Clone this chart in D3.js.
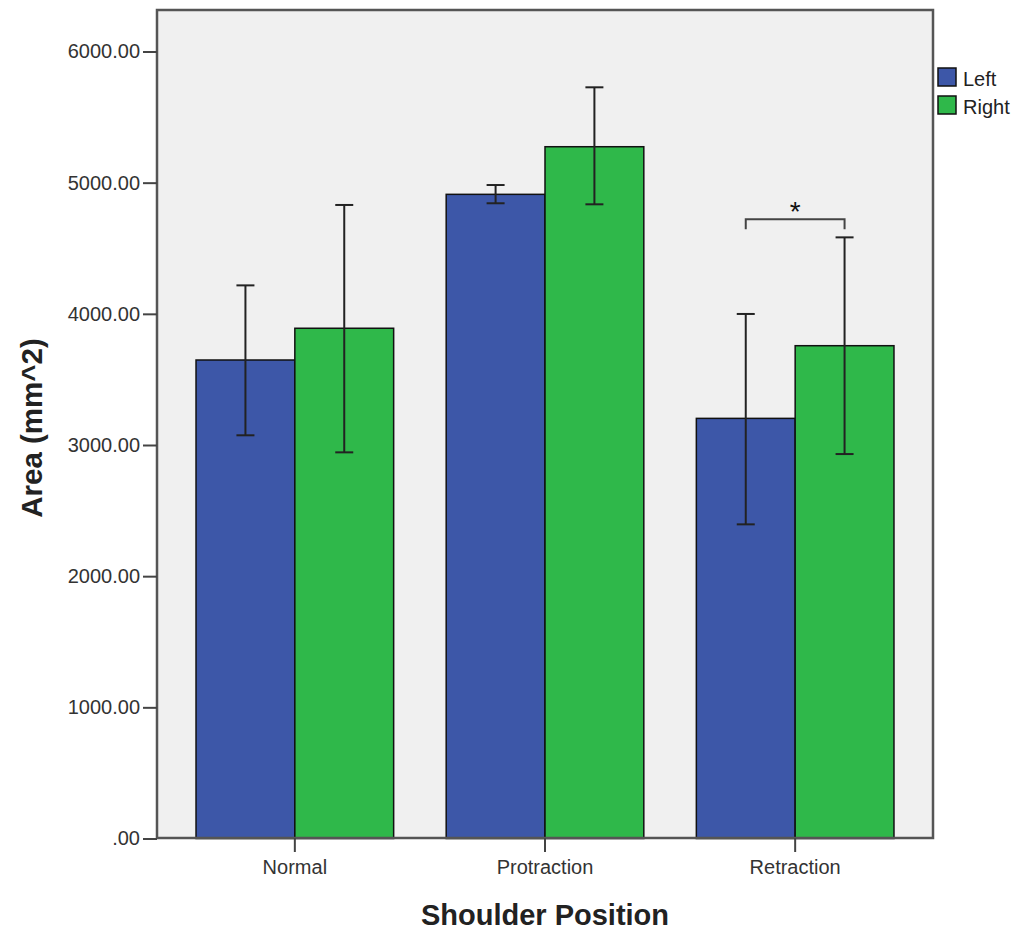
<!DOCTYPE html>
<html>
<head>
<meta charset="utf-8">
<script src="https://cdn.jsdelivr.net/npm/d3@7"></script>
<style>
  body { margin: 0; background: #fff; }
  svg text { font-family: "Liberation Sans", Arial, sans-serif; }
</style>
</head>
<body>
<div id="chart"></div>
<script>
// data
var positions = ["Normal", "Protraction", "Retraction"];
var sides = ["Left", "Right"];
var meanLeft = [3648, 4911, 3203];
var meanRight = [3890, 5274, 3757];
var lowLeft = [3074, 4843, 2395];
var highLeft = [4217, 4982, 3999];
var lowRight = [2944, 4835, 2931];
var highRight = [4830, 5727, 4583];
var yTicks = [0, 1000, 2000, 3000, 4000, 5000, 6000];

var width = 1018, height = 932;
// plot box
var plotLeft = 157, plotRight = 933, plotTop = 10, plotBottom = 838;

var colors = { Left: "#3d57a8", Right: "#2fb84a" };

var svg = d3.select("#chart").append("svg")
  .attr("width", width)
  .attr("height", height);

// plot background
svg.append("rect")
  .attr("x", plotLeft).attr("y", plotTop)
  .attr("width", plotRight - plotLeft).attr("height", plotBottom - plotTop)
  .attr("fill", "#f0f0f0");

var x = d3.scaleBand()
  .domain(positions)
  .range([plotLeft, plotRight])
  .paddingInner(0.21)
  .paddingOuter(0.156);

var xs = d3.scaleBand()
  .domain(sides)
  .range([0, x.bandwidth()]);

var y = d3.scaleLinear()
  .domain([0, 6000])
  .range([838.5, 51.5]);

var rows = positions.map(function(p, i) {
  return [
    { pos: p, side: "Left", mean: meanLeft[i], lo: lowLeft[i], hi: highLeft[i] },
    { pos: p, side: "Right", mean: meanRight[i], lo: lowRight[i], hi: highRight[i] }
  ];
});
var flat = d3.merge(rows);

// bars
svg.append("g").selectAll("rect")
  .data(flat)
  .enter()
  .append("rect")
  .attr("x", function(d) { return x(d.pos) + xs(d.side); })
  .attr("y", function(d) { return y(d.mean); })
  .attr("width", xs.bandwidth())
  .attr("height", function(d) { return y(0) - y(d.mean); })
  .attr("fill", function(d) { return colors[d.side]; })
  .attr("stroke", "#111")
  .attr("stroke-width", 1.5);

// error bars
var err = svg.append("g").attr("stroke", "#222").attr("stroke-width", 2);
flat.forEach(function(d) {
  var cx = x(d.pos) + xs(d.side) + xs.bandwidth() / 2;
  err.append("line")
    .attr("x1", cx).attr("x2", cx)
    .attr("y1", y(d.lo)).attr("y2", y(d.hi));
  [d.lo, d.hi].forEach(function(v) {
    err.append("line")
      .attr("x1", cx - 9).attr("x2", cx + 9)
      .attr("y1", y(v)).attr("y2", y(v));
  });
});

// significance bracket on Retraction
var r = flat.filter(function(d) { return d.pos == "Retraction"; });
var bx1 = x("Retraction") + xs("Left") + xs.bandwidth() / 2;
var bx2 = x("Retraction") + xs("Right") + xs.bandwidth() / 2;
var by = y(d3.max(r, function(d) { return d.hi; })) - 18;
svg.append("path")
  .attr("d", "M" + bx1 + "," + (by + 10) + "V" + by + "H" + bx2 + "V" + (by + 10))
  .attr("fill", "none")
  .attr("stroke", "#444")
  .attr("stroke-width", 2);
svg.append("text")
  .attr("x", (bx1 + bx2) / 2)
  .attr("y", by + 2)
  .attr("text-anchor", "middle")
  .attr("font-size", 28)
  .attr("fill", "#111")
  .text("*");

// frame
svg.append("rect")
  .attr("x", plotLeft).attr("y", plotTop)
  .attr("width", plotRight - plotLeft).attr("height", plotBottom - plotTop)
  .attr("fill", "none")
  .attr("stroke", "#555")
  .attr("stroke-width", 2.5);

// y axis
var yAxis = svg.append("g")
  .attr("transform", "translate(" + plotLeft + ",0)")
  .call(d3.axisLeft(y)
    .tickValues(yTicks)
    .tickSize(14)
    .tickFormat(function(d) { return d == 0 ? ".00" : d3.format(".2f")(d); }));
yAxis.select(".domain").remove();
yAxis.selectAll("line").attr("stroke", "#444").attr("stroke-width", 2);
yAxis.selectAll("text")
  .attr("font-size", 20)
  .attr("fill", "#333")
  .attr("x", -17)
  .style("font-family", "'Liberation Sans', Arial, sans-serif");

// x axis
var xAxis = svg.append("g")
  .attr("transform", "translate(0," + plotBottom + ")")
  .call(d3.axisBottom(x).tickSize(14).tickPadding(8));
xAxis.select(".domain").remove();
xAxis.selectAll("line").attr("stroke", "#444").attr("stroke-width", 2);
xAxis.selectAll("text")
  .attr("font-size", 20)
  .attr("fill", "#333")
  .style("font-family", "'Liberation Sans', Arial, sans-serif");

// axis titles
svg.append("text")
  .attr("transform", "translate(42,428) rotate(-90)")
  .attr("text-anchor", "middle")
  .attr("font-size", 29.5)
  .attr("font-weight", "bold")
  .attr("fill", "#222")
  .text("Area (mm^2)");

svg.append("text")
  .attr("x", x("Protraction") + x.bandwidth() / 2)
  .attr("y", 925)
  .attr("text-anchor", "middle")
  .attr("font-size", 29)
  .attr("font-weight", "bold")
  .attr("fill", "#222")
  .text("Shoulder Position");

// legend
var legend = svg.append("g").selectAll("g")
  .data(sides)
  .enter()
  .append("g")
  .attr("transform", function(d, i) { return "translate(938," + (68 + i * 28) + ")"; });
legend.append("rect")
  .attr("width", 18).attr("height", 18)
  .attr("fill", function(d) { return colors[d]; })
  .attr("stroke", "#111")
  .attr("stroke-width", 1.5);
legend.append("text")
  .attr("x", 25)
  .attr("y", 18)
  .attr("font-size", 20)
  .attr("fill", "#222")
  .text(function(d) { return d; });
</script>
</body>
</html>
